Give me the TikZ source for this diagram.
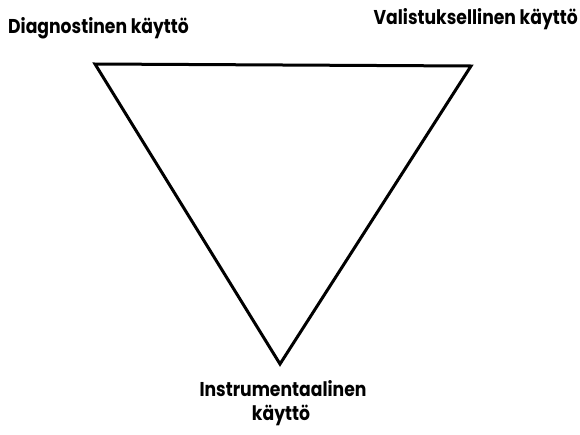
\documentclass[tikz,border=0pt]{standalone}
\usepackage{fontspec}
\setmainfont{Poppins}[FakeStretch=0.86]
\begin{document}
\begin{tikzpicture}[x=1pt,y=-1pt,
  lbl/.style={inner sep=0pt,font=\fontsize{20}{22}\selectfont\bfseries},
  tri/.style={line width=3pt,line join=miter}]
\useasboundingbox (0,0) rectangle (580,434);
\coordinate (A) at (95,64);
\coordinate (B) at (471,66);
\coordinate (C) at (280,364);
\draw[tri] (A) -- (B) -- (C) -- cycle;
\node[lbl,anchor=base west] (d) at (8,33) {Diagnostinen käyttö};
\node[lbl,anchor=base east] (v) at (578,24) {Valistuksellinen käyttö};
\node[lbl,anchor=base] (i) at (283,396) {Instrumentaalinen};
\node[lbl,anchor=base] (k) at (281,420) {käyttö};
\end{tikzpicture}
\end{document}
